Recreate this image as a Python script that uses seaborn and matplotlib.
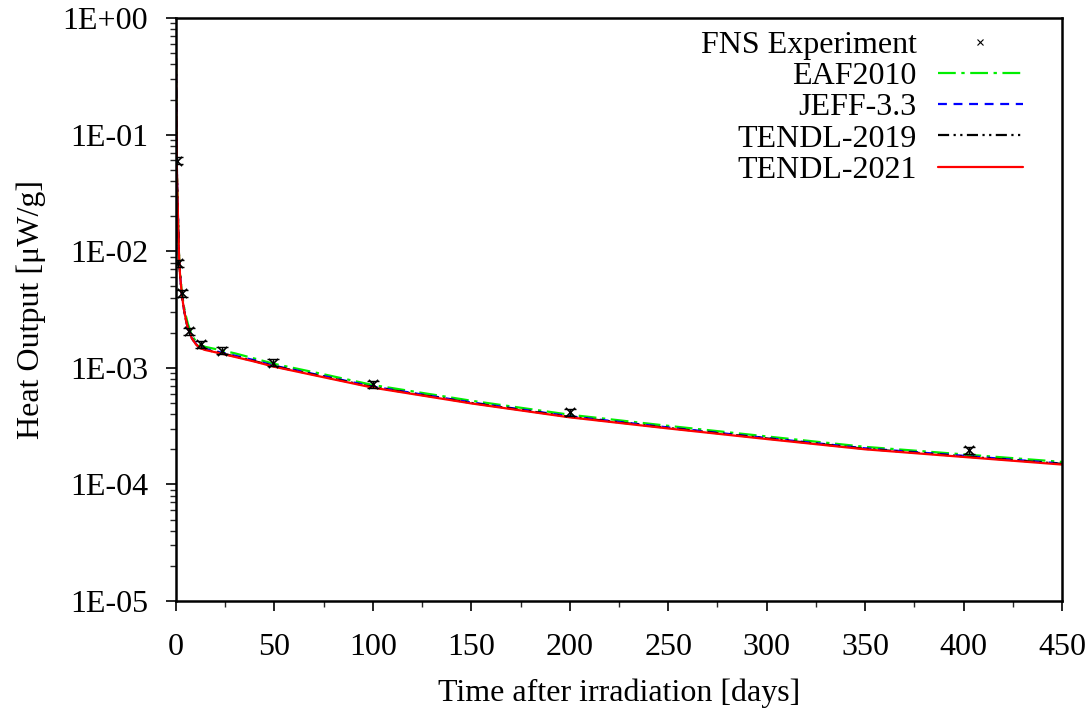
import numpy as np
import pandas as pd
import matplotlib
matplotlib.use("Agg")
import matplotlib.pyplot as plt
from matplotlib.lines import Line2D
from matplotlib.ticker import FuncFormatter, MultipleLocator, LogLocator, NullFormatter
import seaborn as sns

# ---- data ----
time_days = [0, 0.25, 0.5, 1, 1.5, 2, 3, 4, 5, 6, 8, 10, 12, 15, 20, 25, 30, 40, 50,
             75, 100, 150, 200, 250, 300, 350, 400, 450]
tendl2021 = [0.45, 0.12, 0.045, 0.020, 0.0095, 0.0065, 0.0042, 0.0032, 0.0026, 0.0022,
             0.0018, 0.0016, 0.00148, 0.00142, 0.00136, 0.00130, 0.00124, 0.00113, 0.00102,
             0.00083, 0.000676, 0.000495, 0.000376, 0.000302, 0.000245, 0.000200, 0.000172, 0.000148]
tendl2019 = [0.45, 0.12, 0.045, 0.020, 0.0095, 0.0065, 0.0042, 0.0032, 0.0026, 0.0022,
             0.0018, 0.0016, 0.00149, 0.00143, 0.00137, 0.00131, 0.00125, 0.00114, 0.00103,
             0.00084, 0.000683, 0.000500, 0.000380, 0.000305, 0.000248, 0.000202, 0.000174, 0.000150]
jeff33 = [0.45, 0.12, 0.045, 0.020, 0.0095, 0.0065, 0.0042, 0.0032, 0.0026, 0.0022,
          0.0018, 0.00162, 0.00151, 0.00145, 0.00139, 0.00133, 0.00127, 0.00116, 0.00104,
          0.00085, 0.000690, 0.000505, 0.000384, 0.000308, 0.000250, 0.000204, 0.000176, 0.000151]
eaf2010 = [0.45, 0.12, 0.045, 0.020, 0.0096, 0.0067, 0.0044, 0.0034, 0.0028, 0.0024,
           0.0019, 0.00170, 0.00158, 0.00151, 0.00145, 0.00139, 0.00133, 0.00120, 0.00108,
           0.00088, 0.000712, 0.000522, 0.000396, 0.000318, 0.000258, 0.000210, 0.000181, 0.000156]

exp_t = [0.3, 1.2, 2.9, 6.8, 12.5, 23.5, 49.4, 100, 200, 403]
exp_v = [0.0597, 0.0079, 0.00435, 0.00207, 0.00159, 0.00140, 0.00111, 0.000722, 0.000418, 0.000197]
exp_rel_err = 0.07

libs = ["EAF2010", "JEFF-3.3", "TENDL-2019", "TENDL-2021"]
lib_values = [eaf2010, jeff33, tendl2019, tendl2021]
colors = {"EAF2010": "#00ee00", "JEFF-3.3": "#0000ff", "TENDL-2019": "#000000", "TENDL-2021": "#ff0000"}
dashes = {"EAF2010": (8, 2.5, 1.5, 2.5), "JEFF-3.3": (4, 3),
          "TENDL-2019": (5, 2, 1, 2, 1, 2), "TENDL-2021": ""}

df = pd.DataFrame({
    "t": np.tile(time_days, len(libs)),
    "v": np.concatenate(lib_values),
    "lib": np.repeat(libs, len(time_days)),
})

# ---- plot ----
sns.set_theme(style="white")
plt.rcParams["font.family"] = ["Liberation Serif", "DejaVu Serif"]
plt.rcParams["text.color"] = "black"
FS = 23

fig = plt.figure(figsize=(10.91, 7.09), dpi=100)
ax = fig.add_axes([0.1613, 0.1523, 0.8121, 0.8223])

sns.lineplot(data=df, x="t", y="v", hue="lib", style="lib", hue_order=libs, style_order=libs,
             palette=colors, dashes=dashes, linewidth=1.6, legend=False, ax=ax,
             estimator=None, sort=True)

exp_err = [v * exp_rel_err for v in exp_v]
ax.errorbar(exp_t, exp_v, yerr=exp_err, fmt="none", ecolor="black", elinewidth=1.0,
            capsize=4.5, capthick=1.0, zorder=5)
sns.scatterplot(x=exp_t, y=exp_v, marker="x", color="black", s=45, linewidth=1.2,
                ax=ax, zorder=6, legend=False)

ax.set_yscale("log")
ax.set_ylim(1e-5, 1)
ax.set_xlim(0, 450)
ax.xaxis.set_major_locator(MultipleLocator(50))
ax.xaxis.set_minor_locator(MultipleLocator(25))
ax.yaxis.set_major_locator(LogLocator(base=10, numticks=10))
ax.yaxis.set_minor_locator(LogLocator(base=10, subs=np.arange(2, 10), numticks=20))
ax.yaxis.set_major_formatter(FuncFormatter(lambda v, p: f"{v:.0E}"))
ax.yaxis.set_minor_formatter(NullFormatter())

ax.tick_params(axis="both", which="major", direction="out", length=7, width=1.2,
               labelsize=FS, colors="black", bottom=True, left=True, top=False, right=False)
ax.tick_params(axis="x", which="major", pad=16)
ax.tick_params(axis="y", which="major", pad=13)
ax.tick_params(axis="both", which="minor", direction="out", length=4.5, width=1.0,
               bottom=True, left=True, top=False, right=False)
for s in ax.spines.values():
    s.set_color("black")
    s.set_linewidth(1.8)

ax.set_xlabel("Time after irradiation [days]", fontsize=FS, color="black", labelpad=12)
ax.set_ylabel("Heat Output [μW/g]", fontsize=FS, color="black", labelpad=12)
ax.grid(False)

handles = [Line2D([], [], linestyle="none", marker="x", color="black", markersize=4, markeredgewidth=0.8)]
for lib in libs:
    d = dashes[lib]
    h = Line2D([], [], color=colors[lib], linewidth=1.6)
    if d:
        h.set_dashes(d)
    handles.append(h)
leg = ax.legend(handles, ["FNS Experiment"] + libs, loc="upper right", frameon=False,
                markerfirst=False, fontsize=FS, handlelength=2.66, handletextpad=0.66,
                labelspacing=0.06, borderaxespad=0.3, bbox_to_anchor=(0.981, 1.017))
for t in leg.get_texts():
    t.set_ha("right")
    t.set_color("black")

fig.savefig("out.png", dpi=100)
